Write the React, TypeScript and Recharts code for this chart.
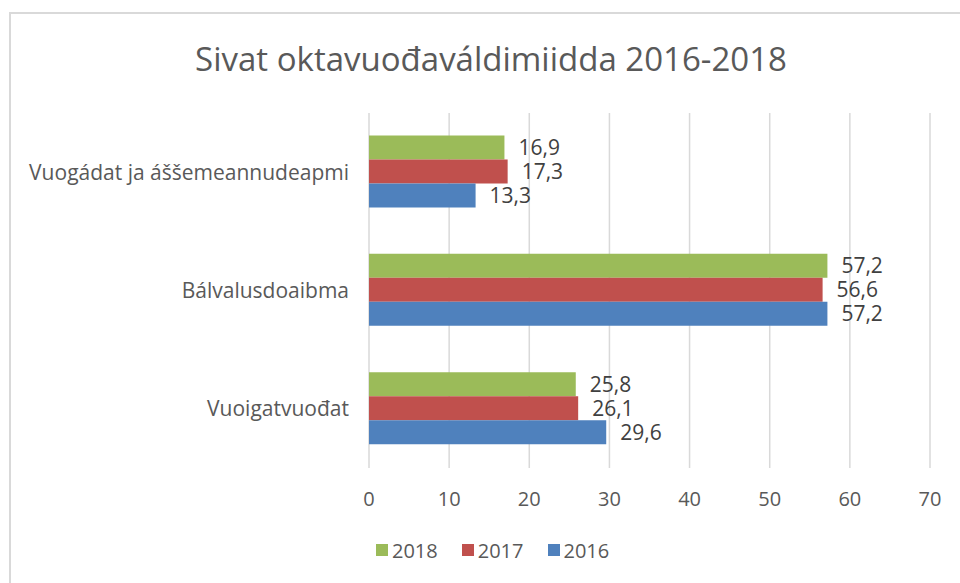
import React from 'react'
import { BarChart, Bar, XAxis, YAxis, CartesianGrid, Legend, LabelList } from 'recharts'

const categories = ['Vuogádat ja áššemeannudeapmi', 'Bálvalusdoaibma', 'Vuoigatvuođat']
const values2018 = [16.9, 57.2, 25.8]
const values2017 = [17.3, 56.6, 26.1]
const values2016 = [13.3, 57.2, 29.6]
const xTicks = [0, 10, 20, 30, 40, 50, 60, 70]

const series = [
  { key: 'y2018', name: '2018', color: '#9BBB59' },
  { key: 'y2017', name: '2017', color: '#C0504D' },
  { key: 'y2016', name: '2016', color: '#4F81BD' },
]

const data = categories.map((name, i) => ({
  name,
  y2018: values2018[i],
  y2017: values2017[i],
  y2016: values2016[i],
}))

const FONT = '"Open Sans", sans-serif'

const fmt = (v: any) => String(v).replace('.', ',')

const LegendContent = () => (
  <div style={{ display: 'flex', alignItems: 'center', height: 24, fontFamily: FONT, fontSize: 20, color: '#595959' }}>
    {series.map((s) => (
      <div key={s.key} style={{ display: 'flex', alignItems: 'center', marginRight: 24 }}>
        <span style={{ width: 12, height: 12, background: s.color, marginRight: 4, display: 'inline-block' }} />
        <span>{s.name}</span>
      </div>
    ))}
  </div>
)

export default function App() {
  return (
    <div style={{ position: 'absolute', left: 0, top: 0, width: 960, height: 583, background: '#fff', overflow: 'hidden' }}>
      <div
        style={{
          position: 'absolute',
          left: 9,
          top: 12,
          width: 1000,
          height: 600,
          borderLeft: '2px solid #d9d9d9',
          borderTop: '2px solid #d9d9d9',
        }}
      />
      <div
        style={{
          position: 'absolute',
          left: 0,
          top: 36,
          width: 982,
          textAlign: 'center',
          fontFamily: FONT,
          fontSize: 33,
          color: '#595959',
          whiteSpace: 'nowrap',
        }}
      >
        Sivat oktavuođaváldimiidda 2016-2018
      </div>
      <div style={{ position: 'absolute', left: 0, top: 0 }}>
        <BarChart
          width={960}
          height={583}
          data={data}
          layout="vertical"
          margin={{ top: 113, right: 30, left: 0, bottom: 75 }}
          barCategoryGap="19%"
          barGap={0}
        >
          <CartesianGrid horizontal={false} stroke="#d9d9d9" strokeWidth={1.5} />
          <XAxis
            type="number"
            domain={[0, 70]}
            ticks={xTicks}
            axisLine={false}
            tickLine={false}
            tickMargin={18}
            height={40}
            tick={{ fill: '#595959', fontSize: 20, fontFamily: FONT }}
          />
          <YAxis
            type="category"
            dataKey="name"
            width={369}
            axisLine={false}
            tickLine={false}
            tickMargin={14}
            tick={{ fill: '#595959', fontSize: 21, fontFamily: FONT }}
          />
          <Legend
            layout="horizontal"
            verticalAlign="middle"
            align="center"
            content={<LegendContent />}
            wrapperStyle={{ left: 376, top: 538, width: 'auto' }}
          />
          {series.map((s) => (
            <Bar key={s.key} dataKey={s.key} name={s.name} fill={s.color} isAnimationActive={false}>
              <LabelList
                dataKey={s.key}
                position="right"
                offset={14}
                formatter={fmt}
                style={{ fill: '#404040', fontSize: 21, fontFamily: FONT }}
              />
            </Bar>
          ))}
        </BarChart>
      </div>
    </div>
  )
}
